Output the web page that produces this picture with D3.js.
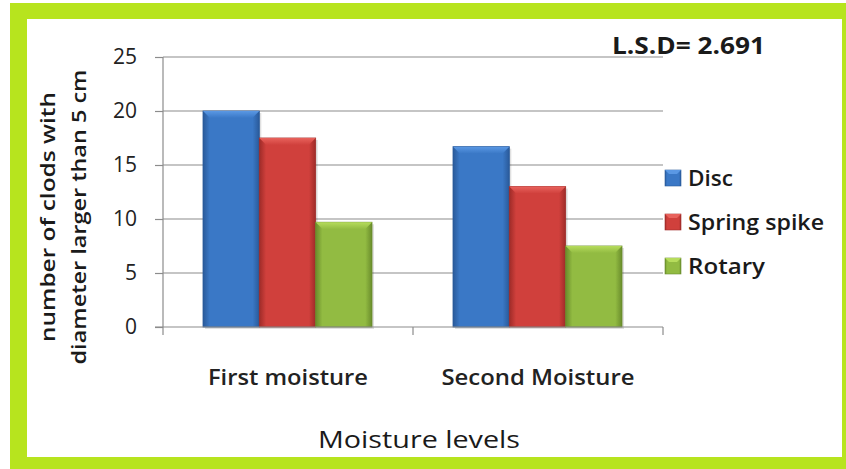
<!DOCTYPE html>
<head>
<meta charset="utf-8">
<style>
body { margin: 0; background: #fff; }
text { font-family: "Open Sans", Lato, sans-serif; fill: #1a1a1a; }
.grid line { stroke: #8c8c8c; stroke-width: 1.2; }
.axis path, .axis line { stroke: #8c8c8c; stroke-width: 1.2; }
.axis text { font-size: 21px; fill: #222; }
</style>
</head>
<body>
<div class="chart"></div>
<script src="https://d3js.org/d3.v7.min.js"></script>
<script>
const categories = ["First moisture", "Second Moisture"];
const seriesNames = ["Disc", "Spring spike", "Rotary"];
const disc = [20.0, 16.7];
const springSpike = [17.5, 13.0];
const rotary = [9.7, 7.5];
const yTicks = [0, 5, 10, 15, 20, 25];

const seriesValues = [disc, springSpike, rotary];
const colors = [
    {base: "#3a78c6", light: "#5a98e4", dark: "#2a5a9a"},
    {base: "#d0403c", light: "#e8625c", dark: "#9e2b28"},
    {base: "#92bb42", light: "#b6dc5c", dark: "#6a8d2c"}
];

const W = 846, H = 469;
const margin = {top: 57, left: 163, right: 183, bottom: 142};
const width = W - margin.left - margin.right;   // 500
const height = H - margin.top - margin.bottom;  // 270

const svg = d3.select(".chart").append("svg")
    .attr("width", W).attr("height", H);

// green frame
svg.append("rect").attr("x", 10).attr("y", 3).attr("width", W - 10).attr("height", H - 3)
    .attr("fill", "#b7e41e");
svg.append("rect").attr("x", 27).attr("y", 19).attr("width", 815).attr("height", 438)
    .attr("fill", "#fff");

const defs = svg.append("defs");
colors.forEach(function(c, i) {
    const g = defs.append("linearGradient").attr("id", "grad" + i)
        .attr("x1", 0).attr("x2", 1).attr("y1", 0).attr("y2", 0);
    g.append("stop").attr("offset", "0").attr("stop-color", c.dark);
    g.append("stop").attr("offset", "0.12").attr("stop-color", c.base);
    g.append("stop").attr("offset", "0.88").attr("stop-color", c.base);
    g.append("stop").attr("offset", "1").attr("stop-color", c.dark);
    const v = defs.append("linearGradient").attr("id", "top" + i)
        .attr("x1", 0).attr("x2", 0).attr("y1", 0).attr("y2", 1);
    v.append("stop").attr("offset", "0").attr("stop-color", c.light);
    v.append("stop").attr("offset", "1").attr("stop-color", c.base);
});

const g = svg.append("g").attr("transform", "translate(" + margin.left + "," + margin.top + ")");

const x0 = d3.scaleBand().domain(categories).range([0, width]);
const x1 = d3.scaleBand().domain(seriesNames).range([40, 250 - 41]);
const y = d3.scaleLinear().domain([0, 25]).range([height, 0]);

// gridlines
g.append("g").attr("class", "grid")
    .selectAll("line").data(yTicks.slice(1)).enter().append("line")
    .attr("x1", 0).attr("x2", width)
    .attr("y1", function(d) { return y(d); }).attr("y2", function(d) { return y(d); });

// bars
const groups = g.selectAll(".grp").data(categories).enter().append("g")
    .attr("class", "grp")
    .attr("transform", function(d) { return "translate(" + x0(d) + ",0)"; });

seriesNames.forEach(function(s, si) {
    groups.each(function(cat, ci) {
        const v = seriesValues[si][ci];
        const bx = x1(s), bw = x1.bandwidth(), by = y(v), bh = height - y(v);
        const sel = d3.select(this);
        sel.append("rect").attr("x", bx + 2).attr("y", by + 2).attr("width", bw).attr("height", bh)
            .attr("fill", "#000").attr("opacity", 0.12);
        sel.append("rect").attr("x", bx).attr("y", by).attr("width", bw).attr("height", bh)
            .attr("fill", "url(#grad" + si + ")").attr("stroke", colors[si].dark).attr("stroke-width", 0.8);
        const bev = 7;
        sel.append("path")
            .attr("d", "M" + bx + "," + by + "L" + (bx + bw) + "," + by + "L" + (bx + bw - bev) + "," + (by + bev)
                + "L" + (bx + bev) + "," + (by + bev) + "Z")
            .attr("fill", "url(#top" + si + ")");
    });
});

// axes
const yAxis = d3.axisLeft(y).tickValues(yTicks).tickSize(8).tickPadding(18).tickFormat(d3.format("d"));
g.append("g").attr("class", "axis").call(yAxis).select(".domain").attr("d", "M0," + height + "V0");

const xAxisG = g.append("g").attr("class", "axis").attr("transform", "translate(0," + height + ")");
xAxisG.append("line").attr("x1", -8).attr("x2", width).attr("y1", 0).attr("y2", 0);
xAxisG.selectAll(".xt").data(d3.range(categories.length + 1)).enter().append("line")
    .attr("x1", function(d) { return d * x0.bandwidth(); })
    .attr("x2", function(d) { return d * x0.bandwidth(); })
    .attr("y1", 0).attr("y2", 8);
const catWidths = [160, 193];
xAxisG.selectAll(".xl").data(categories).enter().append("text")
    .attr("x", function(d) { return x0(d) + x0.bandwidth() / 2; })
    .attr("y", 58).attr("text-anchor", "middle")
    .attr("textLength", function(d, i) { return catWidths[i]; }).attr("lengthAdjust", "spacingAndGlyphs")
    .style("font-size", "21px").style("font-weight", "600")
    .text(function(d) { return d; });

// axis titles
svg.append("text").attr("x", 419).attr("y", 448).attr("text-anchor", "middle")
    .attr("textLength", 202).attr("lengthAdjust", "spacingAndGlyphs")
    .style("font-size", "24px").text("Moisture levels");

const yt = svg.append("text").attr("transform", "translate(0,217) rotate(-90)")
    .attr("text-anchor", "middle").style("font-size", "20px").style("font-weight", "600");
yt.append("tspan").attr("x", 0).attr("y", 55).attr("textLength", 250).attr("lengthAdjust", "spacingAndGlyphs")
    .text("number of clods  with");
yt.append("tspan").attr("x", 0).attr("y", 86).attr("textLength", 295).attr("lengthAdjust", "spacingAndGlyphs")
    .text("diameter larger than  5 cm");

// LSD note
svg.append("text").attr("x", 612).attr("y", 54).attr("textLength", 153).attr("lengthAdjust", "spacingAndGlyphs")
    .style("font-size", "23px").style("font-weight", "700")
    .text("L.S.D= 2.691");

// legend
const legendWidths = [45, 136, 77];
const legend = svg.append("g").attr("transform", "translate(665,170)");
seriesNames.forEach(function(s, i) {
    const lg = legend.append("g").attr("transform", "translate(0," + (i * 44) + ")");
    lg.append("rect").attr("width", 16).attr("height", 16).attr("fill", "url(#grad" + i + ")")
        .attr("stroke", colors[i].dark).attr("stroke-width", 0.6);
    lg.append("path").attr("d", "M0,0H16L12,4H4Z").attr("fill", colors[i].light);
    lg.append("text").attr("x", 23).attr("y", 16).attr("textLength", legendWidths[i])
        .attr("lengthAdjust", "spacingAndGlyphs")
        .style("font-size", "21px").style("font-weight", "600")
        .text(s);
});
</script>
</body>
